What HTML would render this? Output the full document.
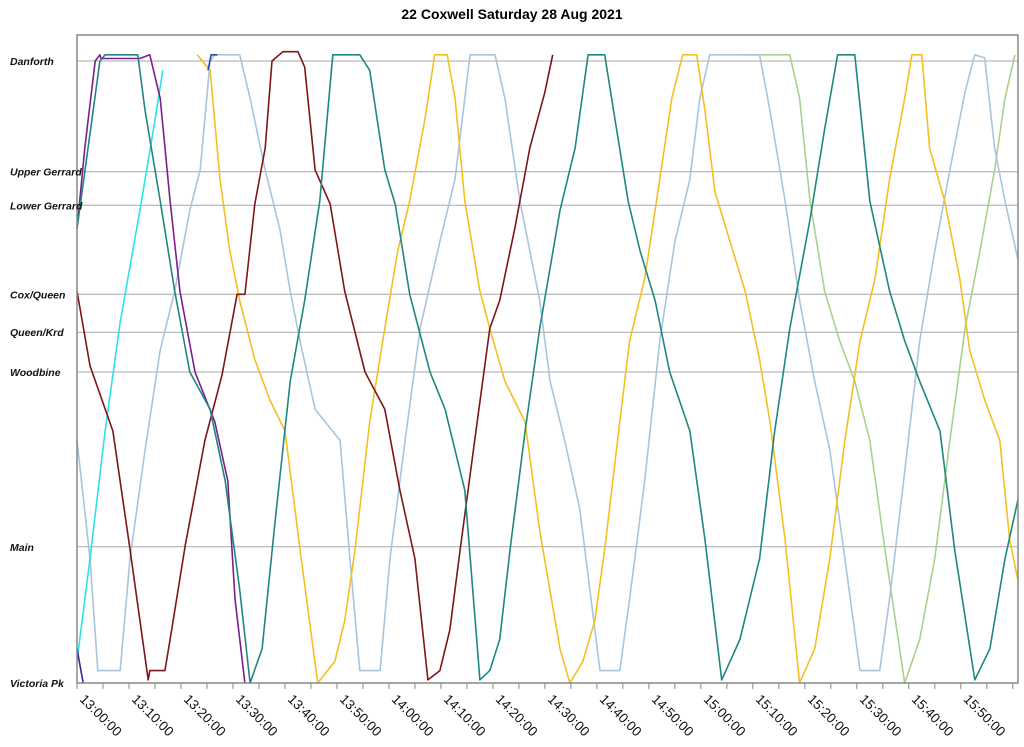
<!DOCTYPE html>
<html><head><meta charset="utf-8">
<style>
html,body{margin:0;padding:0;background:#fff;}
svg{display:block;font-family:"Liberation Sans",sans-serif;}
</style></head>
<body>
<svg id="chart" width="1024" height="747" viewBox="0 0 1024 747" xmlns="http://www.w3.org/2000/svg">
<text x="512" y="19" text-anchor="middle" font-size="14" font-weight="bold">22 Coxwell Saturday 28 Aug 2021</text>
<g id="grid"></g>
<g id="series"></g>
<g id="axes"></g>
</svg>
<script>
const stationNames = ["Danforth","Upper Gerrard","Lower Gerrard","Cox/Queen","Queen/Krd","Woodbine","Main","Victoria Pk"];
const stationPos = [100, 82.2, 76.8, 62.5, 56.4, 50, 21.9, 0];
const tickMinutes = [0,10,20,30,40,50,60,70,80,90,100,110,120,130,140,150,160,170];
const tickLabels = ["13:00:00","13:10:00","13:20:00","13:30:00","13:40:00","13:50:00","14:00:00","14:10:00","14:20:00","14:30:00","14:40:00","14:50:00","15:00:00","15:10:00","15:20:00","15:30:00","15:40:00","15:50:00"];

const busDarkRed = [[0,63],[2.5,51],[6.9,40.5],[10.2,21.5],[13.7,0.5],[14,2],[16.9,2],[17.9,7],[20.8,22],[24.6,39],[27.9,49.5],[30.8,62.5],[32.3,62.5],[34.2,77],[36.2,86],[37.5,100],[39.6,101.5],[42.5,101.5],[43.8,99],[45.8,82.5],[48.7,77],[51.5,63],[55.4,50],[59.2,44],[62.1,31],[65,20],[67.5,0.5],[69.8,2],[71.7,8.5],[73.7,21.5],[76.5,39],[79.4,57],[81.3,61.5],[84.2,73],[87.1,86],[90,95],[91.5,101]];
const busTeal = [[0,73],[4.4,100],[5.4,101],[11.7,101],[13.1,92],[16,77.5],[18.8,63],[21.7,50],[25.6,44],[28.5,32.5],[31.3,15],[33.3,0],[35.6,5.5],[38.1,26],[41,48.5],[43.8,61.5],[46.7,77.5],[49.2,101],[54.4,101],[56.3,98.5],[59.2,82.5],[61.2,77],[64,62.5],[67.9,50],[70.8,44],[74.6,31],[77.5,0.5],[79.4,2],[81.3,7],[83.3,21.5],[86.2,40.5],[89,57],[92.9,76],[95.8,86],[98.3,101],[101.5,101],[103.5,90.5],[106,77.5],[108.3,69.5],[111.2,61.5],[114,50],[117.9,40.5],[120.8,23],[124,0.5],[127.5,7],[131.3,20],[134.2,40.5],[137.1,57],[141,74.5],[143.8,89],[146.3,101],[149.6,101],[152.5,77.5],[156.3,63],[159.2,55],[162.1,48.5],[166,40.5],[168.8,21.5],[172.7,0.5],[175.6,5.5],[178.5,20],[181,29.5]];
const busYellow = [[23.1,101],[25.6,98.5],[27.5,81],[29.4,69.5],[31.3,61.5],[34.2,52],[37.1,45.5],[40,40.5],[42.9,21.5],[46.3,0],[49.6,3.5],[51.5,10],[53.5,21.5],[56.3,42],[59.2,57],[61.7,69.5],[64,77.5],[66.9,90.5],[68.8,101],[71.2,101],[72.7,94],[74.6,77.5],[77.5,63],[79.4,57],[82.3,48.5],[86.2,42],[89,24.5],[92.9,5.5],[94.8,0],[97.3,3.5],[99.6,10],[101.5,21.5],[104.4,42],[106.3,55],[109.2,65],[112.1,81],[114.4,94],[116.5,101],[119.2,101],[120.8,92],[122.7,79],[125.6,71],[128.5,63],[131.3,52],[133.3,42],[136.2,23],[139,0],[141.9,5.5],[144.8,20],[147.7,39],[150.6,55],[153.5,65],[156.3,81],[159.2,94],[160.6,101],[162.5,101],[164,86],[166.9,77.5],[169.8,65],[171.7,53.5],[174.6,45.5],[177.5,39],[179.4,23],[181,16.5]];
const busLightBlue = [[0,39],[2.5,20],[4,2],[8.3,2],[10.2,20],[13.1,37.5],[16,53.5],[18.8,63],[21.7,76],[23.7,82.5],[25.6,100],[26.5,101],[31.3,101],[33.3,94],[36.2,82.5],[39,73],[41,63],[42.9,55],[45.8,44],[50.6,39],[52.5,20],[54.4,2],[58.3,2],[60.2,20],[63.1,39],[66,57],[69.8,71],[72.7,81],[74.6,94],[75.6,101],[80.4,101],[82.3,94],[85.2,77.5],[89,61.5],[91,48.5],[93.8,39],[96.7,28],[100.6,2],[104.4,2],[106.3,13.5],[109.2,32.5],[112.1,55],[115,71],[117.9,81],[119.8,94],[121.7,101],[131.3,101],[133.3,92],[136.2,77.5],[139,61.5],[141.9,48.5],[144.8,37.5],[147.7,20],[150.6,2],[154.4,2],[156.3,13.5],[159.2,34],[162.1,55],[165,69.5],[167.9,82.5],[170.8,95],[172.7,101],[174.6,100.5],[176.5,86],[178.5,77.5],[181,68]];
const busLightGreen = [[127.5,101],[137.1,101],[139,94],[141,77.5],[143.8,63],[146.7,55],[149.6,48.5],[152.5,39],[155.4,21.5],[159.2,0],[162.1,7],[165,20],[167.9,39],[170.8,57],[173.7,69.5],[176.5,82.5],[178.5,94],[180.4,101]];
const busPurple = [[0,73],[1.5,86],[3.5,100],[4.4,101],[4.6,100.4],[12.1,100.4],[14,101],[16,94],[17.9,77.5],[19.8,63],[22.7,50],[26.5,42],[29,32.5],[30.4,13.5],[32.3,0]];
const busCyan = [[0,3.5],[2.5,20],[5.4,40.5],[8.3,58],[12.1,76],[15,90.5],[16.5,98.5]];
const busDarkBlueA = [[0,5.5],[1.2,0]];
const busDarkBlueB = [[25.2,98.5],[25.8,101],[27,101]];

const NS="http://www.w3.org/2000/svg";
const X0=77,X1=1018,Y0=35,Y1=683,TMAX=181,VTOP=100;
const xs=t=>X0+(X1-X0)*t/TMAX;
const ys=v=>683-(683-61)*v/VTOP;
const grid=document.getElementById('grid'),axes=document.getElementById('axes'),ser=document.getElementById('series');
function mk(tag,attrs,parent){const e=document.createElementNS(NS,tag);for(const k in attrs)e.setAttribute(k,attrs[k]);parent.appendChild(e);return e;}

const frame=mk('rect',{x:X0,y:Y0,width:X1-X0,height:Y1-Y0,fill:'none',stroke:'#888','stroke-width':1.5},axes);



stationNames.forEach((n,i)=>{
  const y=ys(stationPos[i]);
  const l=mk('line',{x1:X0,x2:X1,y1:y,y2:y,stroke:'#a8a8a8','stroke-width':1},grid);
  
  
  const t=mk('text',{x:10,y:y+4,'font-size':10.5,'font-weight':'bold','font-style':'italic',fill:'#111'},axes);
  t.textContent=n;
  
  
});

for(let m=0;m<=180;m+=5){
  const x=xs(m);
  const tk=mk('line',{x1:x,x2:x,y1:Y1,y2:Y1+6,stroke:'#888','stroke-width':1},axes);
  
  
}
tickMinutes.forEach((m,i)=>{
  const x=xs(m)+2;
  const y=Y1+17;
  const t=mk('text',{x:x,y:y,'font-size':13.5,fill:'#111',transform:`rotate(45 ${x} ${y})`},axes);
  t.textContent=tickLabels[i];
  
  
});

const seriesList=[
  [busLightGreen,'#a9d18e','bus-light-green'],
  [busLightBlue,'#a7c5de','bus-light-blue'],
  [busYellow,'#f5bf22','bus-yellow'],
  [busCyan,'#2de3e8','bus-cyan'],
  [busDarkRed,'#7e1518','bus-dark-red'],
  [busPurple,'#7b1f8c','bus-purple'],
  [busTeal,'#1e8880','bus-teal'],
  [busDarkBlueA,'#2b2f8f','bus-dark-blue-a'],
  [busDarkBlueB,'#2b4f9f','bus-dark-blue-b']
];
seriesList.forEach(([d,c,name])=>{
  const p=mk('polyline',{points:d.map(([t,v])=>xs(t).toFixed(1)+','+ys(v).toFixed(1)).join(' '),fill:'none',stroke:c,'stroke-width':1.6,'stroke-linejoin':'round'},ser);
  
  
});
</script>
</body></html>
